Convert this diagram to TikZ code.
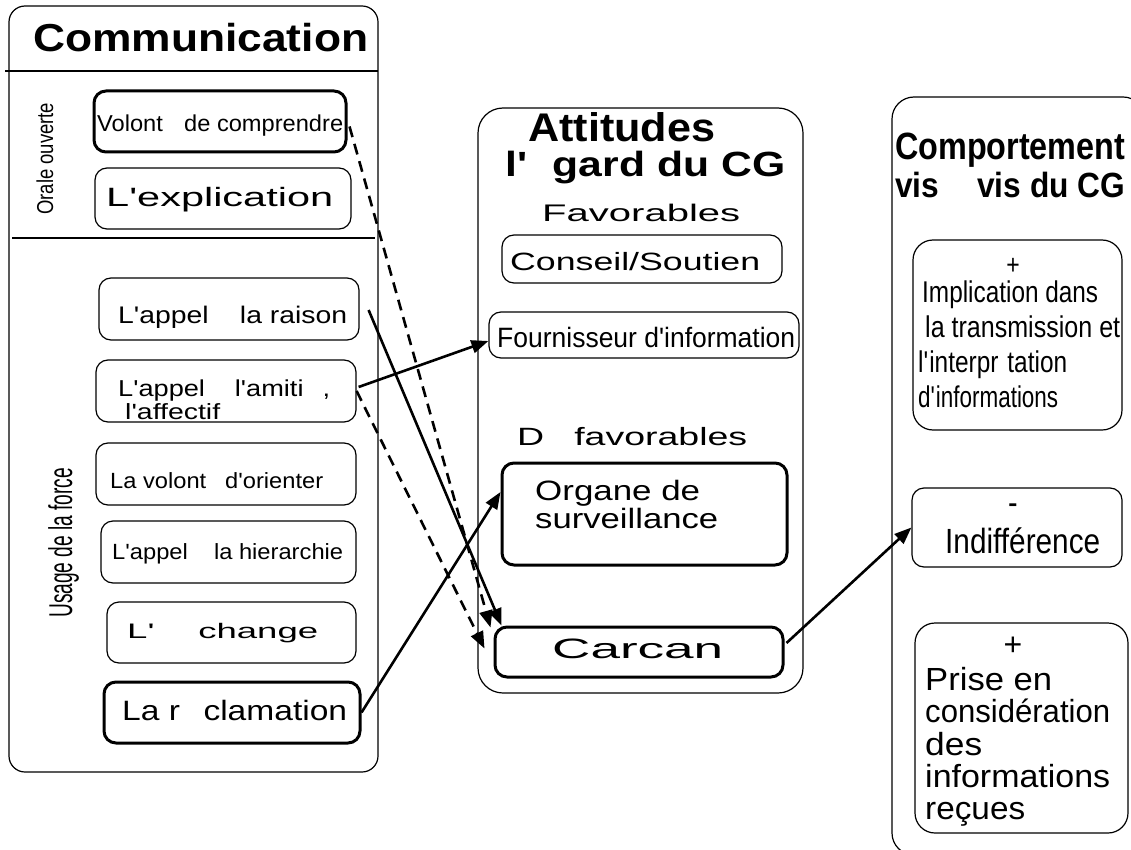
\documentclass[tikz,border=0pt]{standalone}
\usepackage{fontspec}
\setmainfont{Liberation Sans}
\newfontfamily\narrowfont[FakeStretch=0.82]{Liberation Sans}
\usepackage{graphicx}
\usetikzlibrary{arrows.meta,calc}
\newcommand{\wfit}[2]{\resizebox{#1}{\height}{#2}}
\newcommand{\ap}{\textquotesingle}
\newcommand{\fsz}[1]{\fontsize{#1}{#1}\selectfont}
\begin{document}
\begin{tikzpicture}[x=1pt,y=-1pt,
  panel/.style={draw, line width=1.2pt, inner sep=0pt},
  box/.style={draw, line width=1.2pt, rounded corners=12pt, inner sep=0pt},
  tbox/.style={box, line width=3pt},
  lbl/.style={anchor=base west, inner sep=0pt},
  clbl/.style={anchor=base, inner sep=0pt},
  conn/.style={line width=2.6pt, -{Triangle[length=17pt,width=13pt]}},
  dconn/.style={conn, dash pattern=on 11pt off 7pt}]
\useasboundingbox (0,0) rectangle (1131,850);
\clip (0,0) rectangle (1131,850);

% ---------- panels ----------
\node[panel, rounded corners=16pt, minimum width=369pt, minimum height=766pt] (comm) at (193.5,389) {};
\node[panel, rounded corners=25pt, minimum width=325pt, minimum height=585pt] (att) at (640.5,400.5) {};
\node[panel, rounded corners=22pt, minimum width=253pt, minimum height=758pt] (comp) at (1018.5,476) {};
\draw[line width=1.2pt] (5,71) -- (378,71);
\draw[line width=1.2pt] (12,238) -- (375,238);

% ---------- left panel ----------
\node[lbl] (tcomm) at (33,52) {\wfit{335pt}{\fsz{39}\bfseries Communication}};
\node[lbl, rotate=90] (torale) at (53,215) {\wfit{112pt}{\fsz{23}Orale ouverte}};
\node[lbl, rotate=90] (tusage) at (72,618) {\wfit{150pt}{\fsz{33}Usage de la force}};

\node[tbox, minimum width=252pt, minimum height=61pt] (volont) at (220,121.5) {};
\node[lbl] (tvolont) at (97,132) {\wfit{246pt}{\fsz{23}Volont\hspace{0.9em}de comprendre}};
\node[box, minimum width=256pt, minimum height=61pt] (explic) at (223,198.5) {};
\node[lbl] (texplic) at (106,207) {\wfit{227pt}{\fsz{26.5}L\ap explication}};

\node[box, minimum width=260pt, minimum height=62pt] (raison) at (229,309) {};
\node[lbl] (traison) at (118,323) {\wfit{229pt}{\fsz{24}L\ap appel\hspace{1.1em}la raison}};
\node[box, minimum width=260pt, minimum height=62pt] (amitie) at (226,391) {};
\node[lbl] (tamitieA) at (118,396) {\wfit{212pt}{\fsz{23}L\ap appel\hspace{1.1em}l\ap amiti\hspace{0.7em},}};
\node[lbl] (tamitieB) at (125,419) {\wfit{95pt}{\fsz{22}l\ap affectif}};
\node[box, minimum width=260pt, minimum height=62pt] (orient) at (226,474) {};
\node[lbl] (torient) at (110,488) {\wfit{213pt}{\fsz{22}La volont\hspace{0.8em}d\ap orienter}};
\node[box, minimum width=255pt, minimum height=62pt] (hier) at (228.5,552) {};
\node[lbl] (thier) at (112,559) {\wfit{231pt}{\fsz{22}L\ap appel\hspace{1.1em}la hierarchie}};
\node[box, minimum width=249pt, minimum height=61pt] (echange) at (231.5,632.5) {};
\node[lbl] (techange) at (127,638) {\wfit{191pt}{\fsz{21}L\ap\hspace{1.2em}change}};
\node[tbox, minimum width=256pt, minimum height=61pt] (reclam) at (232,712.5) {};
\node[lbl] (treclam) at (122,720) {\wfit{225pt}{\fsz{28}La r\hspace{0.7em}clamation}};

% ---------- middle panel ----------
\node[lbl] (tatt) at (528,142) {\wfit{187pt}{\fsz{40}\bfseries Attitudes}};
\node[lbl] (tegard) at (505,177) {\wfit{280pt}{\fsz{35}\bfseries l\ap\hspace{0.6em}gard du CG}};
\node[lbl] (tfav) at (542,222) {\wfit{198pt}{\fsz{24}Favorables}};
\node[box, minimum width=280pt, minimum height=48pt] (conseil) at (642,259) {};
\node[lbl] (tconseil) at (510,270) {\wfit{250pt}{\fsz{25}Conseil/Soutien}};
\node[box, minimum width=310pt, minimum height=46pt] (fourn) at (644,335) {};
\node[lbl] (tfourn) at (497,347) {\wfit{298pt}{\fsz{28}Fournisseur d\ap information}};
\node[lbl] (tdfav) at (517,445) {\wfit{230pt}{\fsz{25}D\hspace{0.8em}favorables}};
\node[tbox, minimum width=285pt, minimum height=102pt] (organe) at (644.5,514) {};
\node[lbl] (torganeA) at (535,500) {\wfit{165pt}{\fsz{28}Organe de}};
\node[lbl] (torganeB) at (535,528) {\wfit{183pt}{\fsz{28}surveillance}};
\node[tbox, minimum width=288pt, minimum height=50pt] (carcan) at (639,652) {};
\node[lbl] (tcarcan) at (552,658) {\wfit{171pt}{\fsz{28}Carcan}};

% ---------- right panel ----------
\node[lbl] (tcomp) at (895,160) {\wfit{230pt}{\fsz{38}\bfseries Comportement}};
\node[lbl] (tvis) at (895,198) {\wfit{230pt}{\fsz{35}\bfseries vis\hspace{1.2em}vis du CG}};

\node[box, rounded corners=20pt, minimum width=209pt, minimum height=190pt] (impl) at (1017.5,335) {};
\node[clbl] (timplP) at (1013,274) {\narrowfont\fsz{28}+};
\node[lbl] (timplA) at (922,302) {\wfit{176pt}{\narrowfont\fsz{30}Implication dans}};
\node[lbl] (timplB) at (925,337) {\wfit{195pt}{\narrowfont\fsz{30}la transmission et}};
\node[lbl] (timplC) at (918,372) {\wfit{149pt}{\narrowfont\fsz{30}l\ap interpr\hspace{0.3em}tation}};
\node[lbl] (timplD) at (918,407) {\wfit{140pt}{\narrowfont\fsz{30}d\ap informations}};

\node[box, minimum width=210pt, minimum height=79pt] (indiff) at (1017,527.5) {};
\node[clbl] (tindiffM) at (1013,514.5) {\narrowfont\fsz{35}-};
\node[lbl] (tindiff) at (945,553) {\wfit{155pt}{\narrowfont\fsz{35}Indifférence}};

\node[box, rounded corners=20pt, minimum width=213pt, minimum height=210pt] (prise) at (1021.5,728) {};
\node[clbl] (tpriseP) at (1013,655) {\fsz{32}+};
\node[lbl] (tpriseA) at (925,690) {\wfit{127pt}{\fsz{32}Prise en}};
\node[lbl] (tpriseB) at (925,722) {\wfit{185pt}{\fsz{32}considération}};
\node[lbl] (tpriseC) at (925,755) {\wfit{57pt}{\fsz{32}des}};
\node[lbl] (tpriseD) at (925,787) {\wfit{185pt}{\fsz{32}informations}};
\node[lbl] (tpriseE) at (925,819) {\wfit{100pt}{\fsz{32}reçues}};

% ---------- connectors ----------
\draw[dconn] ($(volont.east)+(2,5)$) -- ($(carcan.north west)+(-3,2)$);
\draw[conn] ($(raison.east)+(9,1)$) -- ($(carcan.north west)+(8,0)$);
\draw[dconn] (amitie.east) -- ($(carcan.north west)+(-9,23)$);
\draw[conn] ($(amitie.east)+(2,-4)$) -- ($(fourn.west)+(0,6)$);
\draw[conn] (reclam.east) -- ($(organe.west)+(0,-22)$);
\draw[conn] ($(carcan.east)+(2,-9)$) -- (indiff.west);
\end{tikzpicture}
\end{document}
